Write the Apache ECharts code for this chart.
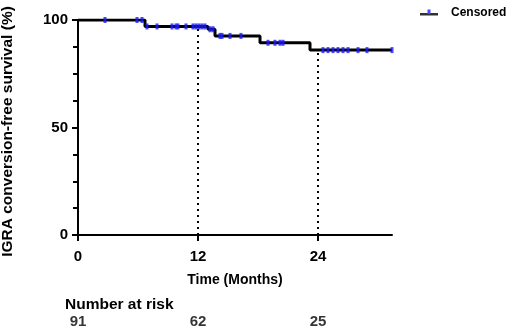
<!DOCTYPE html>
<html>
<head>
<meta charset="utf-8">
<script src="https://cdn.jsdelivr.net/npm/echarts@6/dist/echarts.min.js"></script>
<style>
  html, body { margin: 0; padding: 0; background: #fff; }
  #chart { width: 510px; height: 330px; }
</style>
</head>
<body>
<div id="chart"></div>
<script>
// Kaplan-Meier step points (months, % survival)
var stepTimes = [0, 6.7, 13.0, 13.7, 18.2, 23.2, 31.4];
var stepSurvival = [100, 97.0, 95.7, 92.6, 89.4, 86.0, 86.0];

// censored times (months)
var censoredTimes = [2.7, 5.9, 6.4, 6.9, 7.9, 9.4, 9.8, 10.0, 10.8, 11.5, 11.8, 12.1, 12.4, 12.7,
  13.2, 13.5, 14.2, 14.4, 15.2, 16.3, 19.0, 19.7, 20.2, 20.5,
  24.5, 25.0, 25.5, 26.0, 26.5, 27.0, 28.0, 28.9, 31.4];

// x ticks and number at risk
var xTicks = [0, 12, 24];
var riskTimes = [0, 12, 24];
var riskCounts = [91, 62, 25];

var FONT = 'Liberation Sans, Arial, sans-serif';

function survivalAt(t) {
  var s = stepSurvival[0];
  for (var i = 0; i < stepTimes.length; i++) {
    if (stepTimes[i] <= t) s = stepSurvival[i];
  }
  return s;
}

var kmData = [];
for (var i = 0; i < stepTimes.length; i++) {
  kmData.push([stepTimes[i], stepSurvival[i]]);
}

var censData = [];
for (var j = 0; j < censoredTimes.length; j++) {
  censData.push([censoredTimes[j], survivalAt(censoredTimes[j])]);
}

// dotted guide lines from the axis up to the curve
var refLines = [];
[12, 24].forEach(function (t) {
  refLines.push([{ coord: [t, 0] }, { coord: [t, survivalAt(t) - 1] }]);
});

var riskData = [];
for (var k = 0; k < riskTimes.length; k++) {
  riskData.push([riskTimes[k], 0.5, riskCounts[k]]);
}

var legendIcon = 'image://data:image/svg+xml;utf8,' + encodeURIComponent(
  '<svg xmlns="http://www.w3.org/2000/svg" width="18" height="8">' +
  '<rect x="0" y="4" width="18" height="2.5" fill="#000"/>' +
  '<rect x="7.5" y="0.5" width="3" height="4.5" fill="#1a1aff"/></svg>');

var chart = echarts.init(document.getElementById('chart'), null, { renderer: 'canvas' });

var option = {
  animation: false,
  backgroundColor: '#fff',
  textStyle: { fontFamily: FONT },
  grid: [
    { left: 78, right: 118, top: 20, bottom: 95, containLabel: false, outerBoundsMode: 'none' },
    { left: 78, right: 118, top: 314, height: 16, containLabel: false, outerBoundsMode: 'none' }
  ],
  legend: {
    left: 420,
    top: 7,
    padding: 0,
    itemWidth: 18,
    itemHeight: 8,
    itemStyle: { borderWidth: 0 },
    data: [{ name: 'Censored', icon: legendIcon }],
    textStyle: { fontFamily: FONT, fontWeight: 'bold', fontSize: 12, color: '#000', padding: [0, 0, 0, 8] }
  },
  graphic: [{
    type: 'text',
    left: 65,
    top: 297,
    style: { text: 'Number at risk', font: 'bold 15.5px ' + FONT, fill: '#000' }
  }],
  xAxis: [{
    type: 'value',
    gridIndex: 0,
    min: 0,
    max: 31.4,
    name: 'Time (Months)',
    nameLocation: 'middle',
    nameGap: 38,
    nameTextStyle: { fontFamily: FONT, fontWeight: 'bold', fontSize: 14, color: '#000' },
    axisLine: { lineStyle: { color: '#000', width: 2 } },
    axisTick: { show: true, length: 6, lineStyle: { color: '#000', width: 2 }, customValues: xTicks },
    axisLabel: { customValues: xTicks, fontFamily: FONT, fontWeight: 'bold', fontSize: 15, color: '#000', margin: 14 },
    splitLine: { show: false }
  }, {
    type: 'value',
    gridIndex: 1,
    min: 0,
    max: 31.4,
    show: false
  }],
  yAxis: [{
    type: 'value',
    gridIndex: 0,
    min: 0,
    max: 100,
    interval: 50,
    name: 'IGRA conversion-free survival (%)',
    nameLocation: 'middle',
    nameGap: 62,
    nameTextStyle: { fontFamily: FONT, fontWeight: 'bold', fontSize: 15.5, color: '#000', padding: [0, 8, 0, 0] },
    axisLine: { show: true, lineStyle: { color: '#000', width: 2 } },
    axisTick: { show: true, length: 6, lineStyle: { color: '#000', width: 2 } },
    minorTick: { show: true, splitNumber: 4, length: 5, lineStyle: { color: '#000', width: 2 } },
    axisLabel: { fontFamily: FONT, fontWeight: 'bold', fontSize: 15, color: '#000', margin: 10 },
    splitLine: { show: false }
  }, {
    type: 'value',
    gridIndex: 1,
    min: 0,
    max: 1,
    show: false
  }],
  series: [{
    name: 'Survival',
    type: 'line',
    step: 'end',
    xAxisIndex: 0,
    yAxisIndex: 0,
    data: kmData,
    symbol: 'none',
    lineStyle: { color: '#000', width: 3 },
    z: 3,
    markLine: {
      silent: true,
      symbol: 'none',
      label: { show: false },
      lineStyle: { color: '#000', width: 2, type: [2, 4] },
      data: refLines
    }
  }, {
    name: 'Censored',
    type: 'scatter',
    xAxisIndex: 0,
    yAxisIndex: 0,
    data: censData,
    symbol: 'rect',
    symbolSize: [3, 6],
    itemStyle: { color: '#1a1aff' },
    z: 4
  }, {
    name: 'risk',
    type: 'scatter',
    xAxisIndex: 1,
    yAxisIndex: 1,
    data: riskData,
    symbolSize: 0,
    label: {
      show: true,
      position: 'inside',
      formatter: function (p) { return p.value[2]; },
      fontFamily: FONT,
      fontWeight: 'bold',
      fontSize: 15,
      color: '#000'
    }
  }]
};

chart.setOption(option);
</script>
</body>
</html>
